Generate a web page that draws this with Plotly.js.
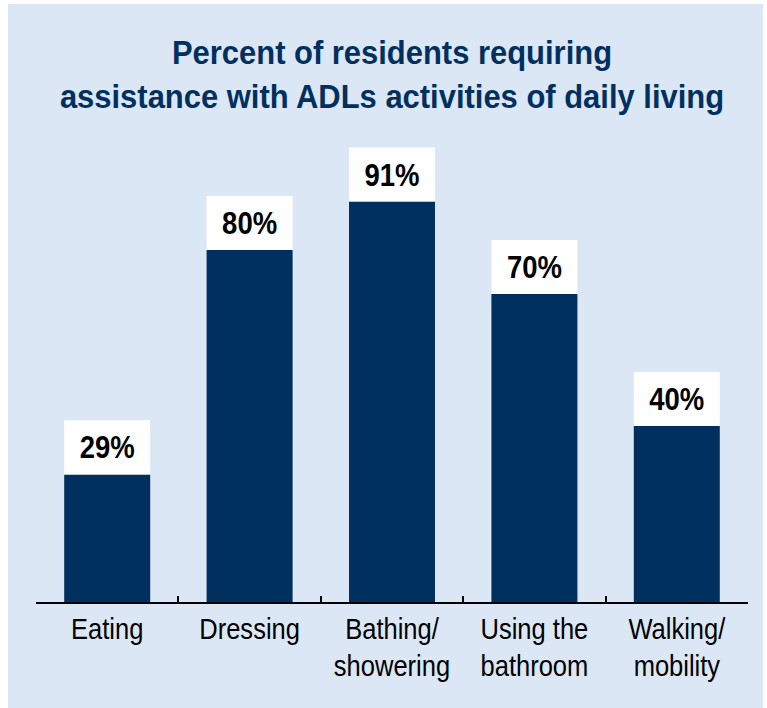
<!DOCTYPE html>
<html>
<head>
<meta charset="utf-8">
<script src="https://cdn.plot.ly/plotly-3.0.1.min.js"></script>
<style>
  html, body { margin: 0; padding: 0; background: #ffffff; }
  #chart { position: absolute; left: 8px; top: 4px; width: 755px; height: 704px; }
</style>
</head>
<body>
<div id="chart"></div>
<script>
// ---- data ----
const categories = ["Eating", "Dressing", "Bathing/showering", "Using the bathroom", "Walking/mobility"];
const tickLabels = ["Eating", "Dressing", "Bathing/<br>showering", "Using the<br>bathroom", "Walking/<br>mobility"];
const percentValues = [29, 80, 91, 70, 40];
const chartTitle = "Percent of residents requiring<br>assistance with ADLs activities of daily living";

// ---- style ----
const NAVY = "#00305f";
const BG = "#dce7f5";
const LABEL_BOX = 12.3; // height of white value box, in axis units
const FONT = "'Liberation Sans', Arial, sans-serif";

const barTrace = {
  type: "bar",
  x: categories,
  y: percentValues,
  marker: { color: NAVY, line: { width: 0 } },
  hoverinfo: "skip"
};

const labelTrace = {
  type: "bar",
  x: categories,
  base: percentValues,
  y: percentValues.map(() => LABEL_BOX),
  marker: { color: "#ffffff", line: { width: 0 } },
  text: percentValues.map(v => "<b>" + v + "%</b>"),
  textposition: "inside",
  insidetextanchor: "middle",
  textangle: 0,
  constraintext: "none",
  textfont: { family: FONT, size: 32, color: "#000000" },
  hoverinfo: "skip"
};

const layout = {
  width: 755,
  height: 704,
  paper_bgcolor: BG,
  plot_bgcolor: BG,
  margin: { l: 28, r: 15, t: 114, b: 106 },
  showlegend: false,
  hovermode: false,
  barmode: "overlay",
  bargap: 0.396,
  title: {
    text: "<b>" + chartTitle + "</b>",
    font: { family: FONT, size: 34, color: NAVY },
    x: 0.5,
    xref: "paper",
    xanchor: "center",
    y: 0.915,
    yref: "container",
    yanchor: "top"
  },
  xaxis: {
    type: "category",
    tickmode: "array",
    tickvals: categories,
    ticktext: tickLabels,
    tickson: "boundaries",
    ticks: "inside",
    ticklen: 6,
    tickwidth: 2,
    tickcolor: "#000000",
    showline: true,
    linecolor: "#000000",
    linewidth: 2,
    showgrid: false,
    zeroline: false,
    tickfont: { family: FONT, size: 29, color: "#000000" },
    fixedrange: true
  },
  yaxis: {
    range: [0, 110],
    visible: false,
    showgrid: false,
    zeroline: false,
    fixedrange: true
  }
};

// horizontally condense text to mimic the condensed typeface of the original
function condense(selector, s) {
  document.querySelectorAll("#chart " + selector).forEach(el => {
    const bb = el.getBBox();
    const cx = bb.x + bb.width / 2;
    const prev = el.getAttribute("transform") || "";
    el.setAttribute("transform", prev + " translate(" + cx + ",0) scale(" + s + ",1) translate(" + (-cx) + ",0)");
  });
}

Plotly.newPlot("chart", [barTrace, labelTrace], layout, { displayModeBar: false, staticPlot: true })
  .then(() => {
    condense(".gtitle", 0.91);
    condense(".xtick text", 0.88);
    condense(".bartext", 0.86);
  });
</script>
</body>
</html>
